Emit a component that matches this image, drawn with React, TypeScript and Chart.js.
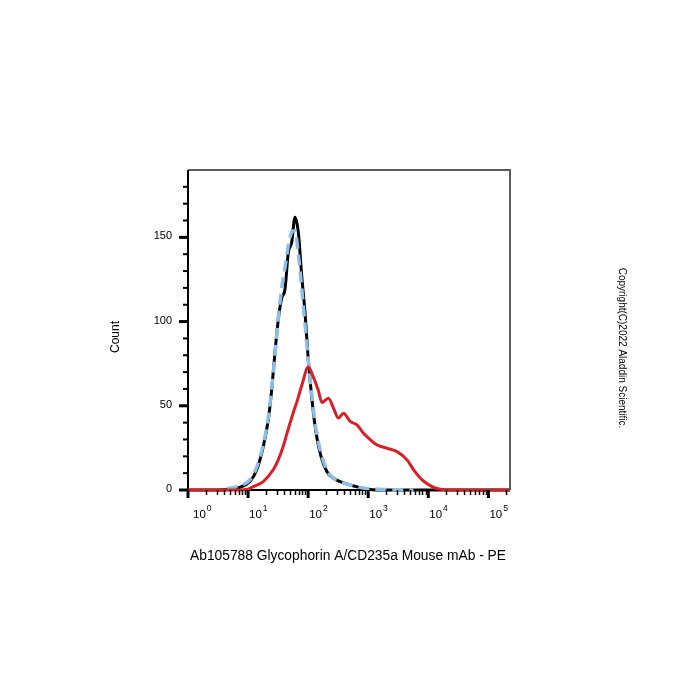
import React, { useEffect, useRef } from "react";
import { Chart, registerables } from "chart.js";

Chart.register(...registerables);

// Fluorescence intensity (x, log scale) and event counts (y)
const blackX = [1, 3.1, 5.0, 7.3, 10.7, 13.9, 17.9, 21.7, 24.7, 28.0, 31.8, 36.3, 41.1, 46.7, 53.2, 60.4, 68.6, 78.2, 88.8, 100.7, 114.8, 130.3, 158, 204.6, 263.6, 341, 500, 735, 962, 1585, 229000];
const blackY = [0, 0, 0.5, 1.6, 5, 11.9, 25.8, 41.7, 59.5, 81.4, 101, 114, 119, 141, 147, 162, 153, 127, 105, 77, 55, 38, 22, 11, 7, 5, 3, 1.4, 0.4, 0, 0];

const blueX = [4.4, 7.3, 10.7, 13.9, 17.9, 21.7, 24.7, 28.0, 31.8, 36.3, 41.1, 46.7, 53.2, 60.4, 68.6, 78.2, 88.8, 100.7, 114.8, 130.3, 158, 204.6, 263.6, 341, 500, 824, 1585, 5640];
const blueY = [0.8, 2.5, 6, 13.5, 27, 43, 60, 80, 102, 120, 132, 145, 153, 154, 140, 120, 98, 77, 57, 40, 24, 12, 7, 5, 3, 1.2, 0.4, 0];

const redX = [1, 5.0, 9.4, 12.2, 17.9, 26.2, 31.0, 38.5, 43.9, 56.6, 64.5, 78.2, 100.7, 122, 148, 169, 217, 264, 319, 387, 500, 648, 835, 951, 1397, 2051, 3013, 4427, 5703, 7870, 11560, 15920, 23400, 229000];
const redY = [0, 0, 0.3, 2, 5, 12, 17, 26, 33, 46, 52, 62, 73, 67, 59, 52, 54.5, 48.6, 42.7, 45.6, 40.7, 38.7, 33.7, 31.7, 26.8, 24.8, 22.8, 17.9, 11.9, 6, 2, 0.4, 0, 0];

const xMin = 1;
const xMax = 229000;
const yMin = 0;
const yMax = 190;

const xMajorTicks = [1, 10, 100, 1000, 10000, 100000];
const xExponents = ["0", "1", "2", "3", "4", "5"];
const xMinorMultipliers = [2, 3, 4, 5, 6, 7, 8, 9];
const yMajorTicks = [0, 50, 100, 150];
const yMinorTicks = [10, 20, 30, 40, 60, 70, 80, 90, 110, 120, 130, 140, 160, 170, 180];

const xTitle = "Ab105788 Glycophorin A/CD235a Mouse mAb - PE";
const yTitle = "Count";
const copyright = "Copyright(C)2022 Aladdin Scientific.";

const FONT = "'Liberation Sans', Arial, sans-serif";

const toPoints = (xs: number[], ys: number[]) => xs.map((x, i) => ({ x, y: ys[i] }));

const axesPlugin = {
  id: "flowAxes",
  beforeDatasetsDraw(chart: any) {
    const { ctx, chartArea } = chart;
    const { left, right, top, bottom } = chartArea;
    ctx.save();
    ctx.strokeStyle = "#5a5a5a";
    ctx.lineWidth = 2;
    ctx.beginPath();
    ctx.moveTo(left, top);
    ctx.lineTo(right, top);
    ctx.lineTo(right, bottom);
    ctx.stroke();
    ctx.strokeStyle = "#000";
    ctx.lineWidth = 2;
    ctx.beginPath();
    ctx.moveTo(left, top);
    ctx.lineTo(left, bottom);
    ctx.lineTo(right, bottom);
    ctx.stroke();
    ctx.restore();
  },
  afterDraw(chart: any) {
    const { ctx, chartArea, scales } = chart;
    const xs = scales.x;
    const ys = scales.y;
    const { left, right, bottom } = chartArea;
    ctx.save();
    ctx.strokeStyle = "#000";
    ctx.fillStyle = "#000";

    ctx.lineWidth = 1.5;
    xMajorTicks.forEach((d) => {
      xMinorMultipliers.forEach((m) => {
        const v = d * m;
        if (v > xMax) return;
        const px = Math.round(xs.getPixelForValue(v)) + 0.5;
        ctx.beginPath();
        ctx.moveTo(px, bottom);
        ctx.lineTo(px, bottom + 5);
        ctx.stroke();
      });
    });
    xMajorTicks.forEach((d, i) => {
      const px = xs.getPixelForValue(d);
      ctx.lineWidth = 3;
      ctx.beginPath();
      ctx.moveTo(px, bottom);
      ctx.lineTo(px, bottom + 8);
      ctx.stroke();
      const lx = px + (i === 0 ? 5 : 1);
      ctx.font = `11.5px ${FONT}`;
      ctx.textAlign = "left";
      ctx.textBaseline = "alphabetic";
      ctx.fillText("10", lx, 518);
      const w = ctx.measureText("10").width;
      ctx.font = `8.5px ${FONT}`;
      ctx.fillText(xExponents[i], lx + w + 1, 511);
    });

    ctx.lineWidth = 2;
    yMinorTicks.forEach((v) => {
      const py = ys.getPixelForValue(v);
      ctx.beginPath();
      ctx.moveTo(left - 5, py);
      ctx.lineTo(left, py);
      ctx.stroke();
    });
    yMajorTicks.forEach((v) => {
      const py = ys.getPixelForValue(v);
      ctx.lineWidth = 3;
      ctx.beginPath();
      ctx.moveTo(left - 9, py);
      ctx.lineTo(left, py);
      ctx.stroke();
      ctx.font = `11px ${FONT}`;
      ctx.textAlign = "right";
      ctx.textBaseline = "middle";
      ctx.fillText(String(v), 172, py - 1);
    });

    ctx.font = `13.8px ${FONT}`;
    ctx.textAlign = "center";
    ctx.textBaseline = "middle";
    ctx.fillText(xTitle, 348, 556);

    ctx.save();
    ctx.translate(116, 337);
    ctx.rotate(-Math.PI / 2);
    ctx.font = `12px ${FONT}`;
    ctx.fillText(yTitle, 0, 0);
    ctx.restore();

    ctx.save();
    ctx.translate(622, 348);
    ctx.rotate(Math.PI / 2);
    ctx.font = `10px ${FONT}`;
    ctx.fillText(copyright, 0, 0);
    ctx.restore();

    ctx.restore();
  },
};

export default function App() {
  const ref = useRef<HTMLCanvasElement | null>(null);

  useEffect(() => {
    if (!ref.current) return;
    const chart = new Chart(ref.current, {
      type: "line",
      data: {
        datasets: [
          {
            label: "Stained",
            data: toPoints(redX, redY),
            borderColor: "#d42228",
            borderWidth: 3,
            pointRadius: 0,
            cubicInterpolationMode: "monotone",
            fill: false,
            clip: false,
          },
          {
            label: "Isotype",
            data: toPoints(blueX, blueY),
            borderColor: "#8dbfe6",
            borderWidth: 3.5,
            borderDash: [11, 6],
            pointRadius: 0,
            cubicInterpolationMode: "monotone",
            fill: false,
            clip: false,
          },
          {
            label: "Unstained",
            data: toPoints(blackX, blackY),
            borderColor: "#000000",
            borderWidth: 3,
            pointRadius: 0,
            cubicInterpolationMode: "monotone",
            fill: false,
            clip: false,
          },
        ] as any,
      },
      options: {
        animation: false,
        responsive: false,
        maintainAspectRatio: false,
        devicePixelRatio: 1,
        layout: { padding: { left: 188, right: 190, top: 170, bottom: 210 } },
        scales: {
          x: { type: "logarithmic", min: xMin, max: xMax, display: false },
          y: { type: "linear", min: yMin, max: yMax, display: false },
        },
        plugins: {
          legend: { display: false },
          tooltip: { enabled: false },
        },
        events: [],
      } as any,
      plugins: [axesPlugin],
    });
    return () => chart.destroy();
  }, []);

  return (
    <div style={{ position: "absolute", left: 0, top: 0, width: 700, height: 700, background: "#fff" }}>
      <canvas ref={ref} width={700} height={700} style={{ width: 700, height: 700 }} />
    </div>
  );
}
